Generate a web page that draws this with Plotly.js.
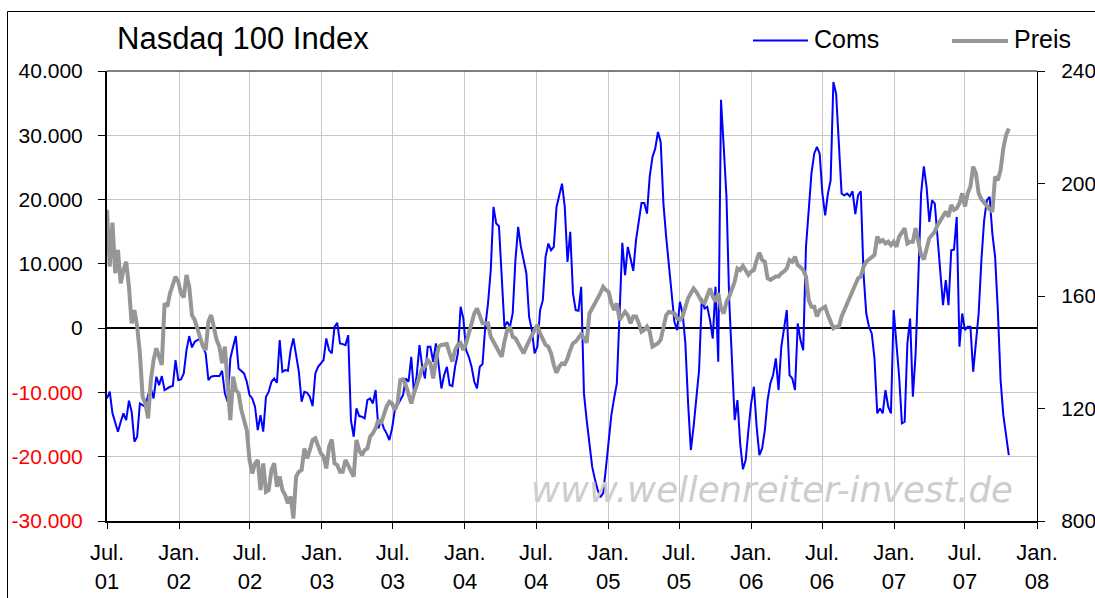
<!DOCTYPE html>
<html>
<head>
<meta charset="utf-8">
<script src="https://cdn.plot.ly/plotly-3.0.1.min.js"></script>
<style>
html,body{margin:0;padding:0;background:#fff;overflow:hidden;}
#chart{width:1095px;height:598px;}
</style>
</head>
<body>
<div id="chart"></div>
<script>
// ---- data (weekly readings, first week starting 2001-07-01) ----
const START_DATE = '2001-07-01';

const coms = [
-10930,-9890,-13260,-14810,-16110,-14560,-13260,-14300,-11290,-13000,
-17660,-16890,-11710,-11970,-12220,-10410,-9380,-10930,-7560,-8860,
-7460,-9630,-9380,-9120,-9010,-4970,-8080,-7980,-7040,-3420,
-1240,-3000,-2120,-1860,-1610,-2900,-3940,-8080,-7560,-7460,
-7460,-7460,-6630,-10150,-11450,-4710,-2900,-1240,-6270,-6630,
-7040,-8340,-10410,-10930,-12220,-15850,-13520,-16110,-10670,-9890,
-8340,-7820,-8500,-1860,-6790,-6530,-6630,-3420,-1610,-4200,
-6790,-11450,-9890,-10050,-10670,-12120,-7040,-6010,-5490,-4970,
-1610,-3420,-3940,210,830,-2380,-2490,-2640,-1090,-14300,
-16890,-12480,-13680,-13780,-14040,-11190,-10930,-11710,-9630,-15590,
-14300,-15590,-16370,-17400,-15590,-12740,-11970,-11190,-10410,-7820,
-8340,-4450,-10150,-7300,-2640,-6010,-7820,-2900,-2900,-5230,
-2380,-5750,-9380,-7300,-6010,-8860,-9010,-6010,-3940,3320,
1500,-3420,-4450,-6010,-8340,-9380,-6010,-5590,210,3830,
9010,18860,16270,15850,7980,210,980,210,2280,10570,
15750,12640,10570,8500,1760,-310,-3940,-2900,2800,4350,
11090,13160,12120,12640,18860,20820,22480,18860,10310,14970,
5390,2800,2690,6420,-10150,-14300,-17920,-21550,-23520,-25170,
-26310,-25690,-21810,-17920,-13520,-10930,-8600,2280,13260,8240,
12640,10830,8910,13680,16270,19480,19480,17820,23620,26630,
27920,30510,28960,19370,14190,9530,4350,980,-310,4090,
2280,-2380,-11710,-18960,-15330,-11190,-6530,4610,3060,3320,
1240,-1610,6420,-5230,35530,28180,20410,4350,-4970,-14300,
-11190,-17920,-21960,-20510,-15850,-11710,-9120,-15330,-19740,-18700,
-15850,-11190,-8600,-7300,-4710,-9630,-2900,210,2800,-7300,
-7820,-9630,730,-1860,-3420,12640,18340,24040,27140,28180,
27140,20930,17560,20930,23000,38280,36470,28700,20930,20670,
20930,20510,21290,17720,20670,21290,8500,2280,210,-830,
-4710,-13260,-12480,-13260,-9630,-12220,-13260,2800,-1860,-7560,
-14810,-14560,-2380,1500,-10670,-4000,7980,20930,25170,21960,
16520,19890,19370,13680,8500,3570,7460,3570,12120,12220,
17300,-2900,2280,-310,210,210,-6790,-2380,2280,10570,
16780,19890,20410,14710,11090,2800,-8080,-13520,-16370,-19740
];

const preis = [
1906,1704,1861,1681,1764,1645,1692,1722,1633,1503,
1550,1491,1396,1242,1218,1165,1301,1372,1414,1384,
1355,1574,1562,1610,1645,1669,1651,1610,1595,1675,
1633,1532,1515,1479,1455,1420,1408,1509,1532,1491,
1444,1420,1361,1420,1301,1159,1313,1266,1254,1195,
1159,1123,1017,969,1005,1017,910,1005,904,910,
981,1005,922,958,910,892,863,887,809,958,
975,981,1058,1023,1052,1088,1094,1064,1041,1029,
987,1064,1090,1005,999,975,975,1017,999,975,
958,1088,1052,1035,1052,1058,1100,1112,1130,1159,
1147,1177,1207,1224,1218,1195,1218,1301,1304,1284,
1254,1218,1254,1284,1319,1343,1349,1372,1361,1307,
1372,1420,1426,1426,1429,1396,1367,1408,1426,1432,
1408,1432,1467,1503,1538,1556,1527,1503,1503,1503,
1455,1438,1420,1402,1384,1438,1479,1491,1455,1450,
1432,1420,1396,1420,1444,1461,1479,1497,1467,1444,
1426,1420,1396,1355,1327,1349,1361,1358,1378,1408,
1432,1438,1455,1465,1450,1434,1538,1556,1574,1586,
1610,1633,1621,1615,1574,1550,1574,1515,1527,1544,
1532,1503,1527,1527,1503,1473,1479,1491,1473,1420,
1426,1432,1444,1491,1532,1544,1541,1538,1521,1515,
1527,1562,1592,1610,1627,1615,1598,1580,1574,1598,
1627,1598,1580,1610,1556,1538,1580,1598,1621,1651,
1698,1692,1707,1687,1675,1687,1692,1728,1754,1728,
1722,1663,1657,1663,1669,1669,1681,1687,1698,1728,
1722,1740,1710,1702,1692,1669,1586,1562,1562,1527,
1550,1556,1562,1532,1509,1485,1491,1491,1527,1550,
1574,1598,1621,1645,1663,1669,1704,1722,1730,1737,
1746,1811,1793,1799,1787,1793,1781,1793,1775,1811,
1829,1841,1787,1793,1793,1841,1793,1746,1730,1775,
1805,1817,1829,1852,1868,1882,1900,1882,1924,1906,
1912,1930,1965,1918,1965,1989,2060,2036,1965,1944,
1932,1918,1908,1900,2024,2012,2048,2125,2172,2196
];

const tickDates = ['2001-07-01','2002-01-01','2002-07-01','2003-01-01','2003-07-01','2004-01-01','2004-07-01',
                   '2005-01-01','2005-07-01','2006-01-01','2006-07-01','2007-01-01','2007-07-01','2008-01-01'];
const tickLabels = ['Jul.<br>01','Jan.<br>02','Jul.<br>02','Jan.<br>03','Jul.<br>03','Jan.<br>04','Jul.<br>04',
                    'Jan.<br>05','Jul.<br>05','Jan.<br>06','Jul.<br>06','Jan.<br>07','Jul.<br>07','Jan.<br>08'];
const comsTicks = [-30000,-20000,-10000,0,10000,20000,30000,40000];
const comsTickLabels = ['-30.000','-20.000','-10.000','0','10.000','20.000','30.000','40.000'];
const preisTicks = [800,1200,1600,2000,2400];
const preisTickLabels = ['800','1200','1600','2000','2400'];

// ---- weekly dates ----
function weeklyDates(start, n){
  const out = [];
  const t0 = Date.parse(start + 'T00:00:00Z');
  for(let i=0;i<n;i++){
    out.push(new Date(t0 + i*7*86400000).toISOString().slice(0,10));
  }
  return out;
}
const dates = weeklyDates(START_DATE, coms.length);

// ---- geometry helpers (pixel -> paper) ----
const W=1095, H=598, L=107, R=1037, T=71, B=521;
const px = x => (x-L)/(R-L);
const py = y => (B-y)/(B-T);

const comsText = comsTicks.map((v,k)=> v<0 ? '<span style="color:#ff0000">'+comsTickLabels[k]+'</span>' : comsTickLabels[k]);

const traces = [
  {x:dates, y:coms, type:'scatter', mode:'lines', name:'Coms',
   line:{color:'#0000ff', width:2}, hoverinfo:'skip'},
  {x:dates, y:preis, type:'scatter', mode:'lines', name:'Preis', yaxis:'y2',
   line:{color:'#969696', width:4}, hoverinfo:'skip'}
];

const layout = {
  width:W, height:H,
  margin:{l:L, r:W-R, t:T, b:H-B, pad:0},
  paper_bgcolor:'#ffffff', plot_bgcolor:'#ffffff',
  showlegend:false,
  font:{family:'Liberation Sans, Arial, sans-serif', color:'#000', size:21},
  title:{text:'Nasdaq 100 Index', font:{size:31, color:'#000'},
         xref:'paper', x:px(117), xanchor:'left',
         yref:'container', y:1-38/H, yanchor:'middle'},
  xaxis:{type:'date', range:['2001-07-01','2008-01-01'],
         tickmode:'array', tickvals:tickDates, ticktext:tickLabels,
         ticks:'outside', ticklen:6, tickwidth:1, tickcolor:'#000',
         showgrid:true, gridcolor:'#c8c8c8', gridwidth:1,
         showline:true, linecolor:'#000', linewidth:2, zeroline:false,
         tickfont:{size:22, color:'#000'}, ticklabelstandoff:5, fixedrange:true},
  yaxis:{range:[-30000,40000], tickmode:'array', tickvals:comsTicks, ticktext:comsText,
         ticks:'outside', ticklen:7, tickwidth:1, tickcolor:'#000',
         showgrid:true, gridcolor:'#c8c8c8', gridwidth:1,
         showline:true, linecolor:'#000', linewidth:2,
         zeroline:true, zerolinecolor:'#000', zerolinewidth:1.5,
         tickfont:{size:21, color:'#000'}, ticklabelstandoff:11, fixedrange:true},
  yaxis2:{overlaying:'y', side:'right', range:[800,2400],
          tickmode:'array', tickvals:preisTicks, ticktext:preisTickLabels,
          ticks:'outside', ticklen:7, tickwidth:1, tickcolor:'#000',
          showgrid:false, showline:true, linecolor:'#000', linewidth:1, zeroline:false,
          tickfont:{size:21, color:'#000'}, ticklabelstandoff:12, fixedrange:true},
  shapes:[
    // plot top border
    {type:'line', xref:'paper', yref:'paper', x0:0, x1:1, y0:1, y1:1, line:{color:'#000', width:1}},
    // chart area frame
    {type:'rect', xref:'paper', yref:'paper', x0:px(7.5), x1:px(W+20), y0:py(H+20), y1:py(11.5),
     line:{color:'#000', width:1}, fillcolor:'rgba(0,0,0,0)'},
    // legend samples
    {type:'line', xref:'paper', yref:'paper', x0:px(753), x1:px(808), y0:py(40.5), y1:py(40.5),
     line:{color:'#0000ff', width:2}},
    {type:'line', xref:'paper', yref:'paper', x0:px(952), x1:px(1008), y0:py(41), y1:py(41),
     line:{color:'#969696', width:4}}
  ],
  annotations:[
    {text:'Coms', xref:'paper', yref:'paper', x:px(812), y:py(39), xanchor:'left', yanchor:'middle',
     showarrow:false, font:{size:25, color:'#000'}},
    {text:'Preis', xref:'paper', yref:'paper', x:px(1012), y:py(39), xanchor:'left', yanchor:'middle',
     showarrow:false, font:{size:25, color:'#000'}},
    {text:'www.wellenreiter-invest.de', xref:'paper', yref:'paper', x:px(772), y:py(489),
     xanchor:'center', yanchor:'middle', showarrow:false,
     font:{family:'DejaVu Sans, Verdana, sans-serif', size:35.5, color:'#cdcdcd', style:'italic'}}
  ]
};

Plotly.newPlot('chart', traces, layout, {displayModeBar:false, staticPlot:true});
</script>
</body>
</html>
